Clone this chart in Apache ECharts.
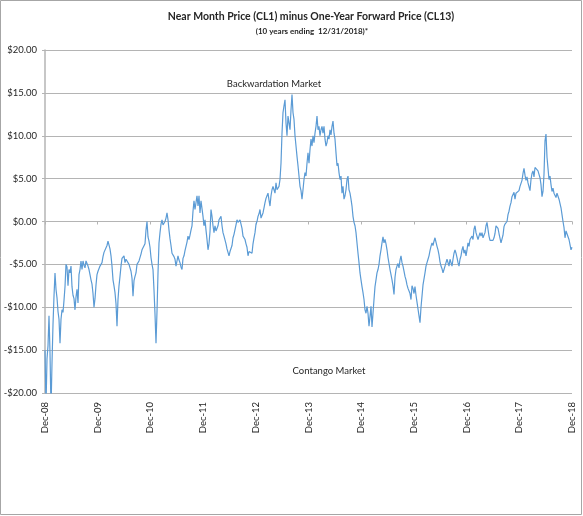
<!DOCTYPE html>
<html>
<head>
<meta charset="utf-8">
<script src="https://cdn.jsdelivr.net/npm/echarts@6/dist/echarts.min.js"></script>
<style>
html, body { margin: 0; padding: 0; background: #fff; }
#chart { width: 583px; height: 516px; }
</style>
</head>
<body>
<div id="chart"></div>
<script>
// CL1 - CL13 spread, roughly weekly readings (one step = 1/52.7 year), Dec-08 .. Dec-18
var dec08_feb11 = [
    -15.0, -21.5, -16.0, -14.5, -11.0, -15.3, -22.0, -16.5, -12.0, -8.7,
    -6.0, -7.9, -8.9, -10.5, -11.4, -14.2, -11.4, -10.3, -10.6, -9.2,
    -7.6, -5.0, -5.3, -7.5, -5.6, -6.0, -5.2, -7.6, -8.6, -9.0,
    -10.3, -8.8, -7.9, -9.5, -6.2, -5.6, -4.6, -5.6, -4.6, -5.1,
    -5.4, -4.6, -4.4, -5.2, -5.6, -6.2, -6.8, -7.3, -8.4, -10.0,
    -9.0, -7.4, -6.2, -5.8, -5.6, -5.2, -5.4, -4.8, -4.1, -3.6,
    -3.5, -3.4, -2.8, -2.3, -2.4, -3.2, -4.0, -5.2, -6.8, -7.5,
    -8.3, -9.6, -12.2, -9.1, -7.5, -6.4, -5.2, -4.3, -4.4, -4.0,
    -4.8, -4.4, -4.5, -4.6, -5.0, -5.4, -5.8, -6.6, -8.7, -6.9,
    -6.4, -6.0, -5.0, -4.8, -4.6, -4.4, -3.8, -3.3, -3.5, -3.1,
    -2.6, -1.0, 0.0, -1.8, -2.3, -3.0, -4.2, -5.0, -5.6, -8.0,
    -10.8, -14.2, -10.5
];
var feb11_jul12 = [
    -6.0, -2.5, -1.3, -0.3, 0.2, -0.4, -0.3, 0.0, 0.4, 1.0,
    0.2, -1.0, -2.0, -2.8, -3.7, -3.5, -4.1, -4.4, -5.2, -4.6,
    -4.0, -4.5, -4.8, -5.3, -5.6, -4.3, -4.0, -3.4, -2.9, -2.4,
    -1.7, -2.1, -1.6, -1.0, -0.5, 1.2, 2.4, 1.4, 2.2, 3.0,
    1.8, 3.0, 1.0, 2.4, 2.6, 0.6, -0.5, 0.2, -1.0, -2.1,
    -3.3, -2.6, -1.2, 1.4, 0.6, -0.5, -1.3, -0.5, -1.1, -1.0,
    -0.5, 0.2, 0.2, 0.6, -0.5, -1.3, -1.7, -1.9, -2.6, -3.2,
    -3.6, -4.0, -3.5
];
var jul12_nov13 = [
    -3.3, -2.8, -1.9, -1.5, -1.3, -0.4, 0.2, -0.1, 0.0, 0.2,
    -0.3, -0.8, -1.7, -1.8, -2.1, -2.6, -3.0, -4.0, -3.5, -3.3,
    -3.6, -3.7, -2.6, -1.9, -1.3, -0.3, 0.0, 0.6, 0.9, 1.4,
    0.4, 0.4, 1.0, 1.6, 2.2, 2.7, 3.0, 3.3, 2.5, 1.8,
    3.0, 3.7, 4.1, 3.7, 3.3, 4.5, 3.7, 3.9, 4.1, 4.9,
    6.8, 10.3, 12.7, 13.5, 14.2, 11.5, 10.0, 12.3, 11.5, 10.7,
    13.0, 14.8, 12.7, 11.9, 10.0, 8.8, 7.6, 6.5, 5.3, 4.1
];
var nov13_may15 = [
    3.6, 2.6, 3.7, 4.9, 5.7, 5.3, 6.8, 8.0, 6.8, 8.4,
    9.6, 8.8, 10.0, 9.2, 10.3, 11.1, 12.3, 10.7, 11.1, 10.0,
    10.7, 11.1, 10.3, 11.1, 9.6, 8.8, 9.2, 10.0, 9.6, 10.7,
    10.1, 11.1, 11.7, 10.3, 9.6, 8.0, 6.5, 6.8, 5.7, 4.9,
    5.3, 3.3, 4.1, 2.6, 3.0, 3.7, 4.9, 5.3, 3.7, 3.3,
    2.6, 1.8, 0.6, -0.1, -0.5, -1.3, -2.5, -3.7, -4.8, -6.0,
    -6.8, -7.6, -8.3, -9.1, -10.3, -10.7, -9.9, -10.7, -12.2, -11.1,
    -9.9, -12.3, -10.7, -9.1, -7.6, -6.8, -6.0, -5.6, -5.0, -4.0
];
var may15_apr16 = [
    -3.3, -2.5, -1.8, -2.5, -2.1, -2.6, -3.3, -4.2, -4.9, -5.6,
    -6.2, -6.8, -7.5, -8.5, -6.5, -5.6, -5.2, -4.9, -5.4, -4.5,
    -4.0, -4.8, -5.2, -5.8, -6.4, -6.8, -7.4, -7.8, -8.0, -8.4,
    -9.1, -7.5, -7.8, -8.4, -7.6, -8.6, -9.4, -10.2, -11.0, -11.8,
    -10.0, -8.7, -7.4, -6.7, -6.0, -5.2, -4.8, -4.4, -4.0, -3.4
];
var apr16_jun17 = [
    -2.9, -2.5, -2.8, -2.3, -1.9, -2.4, -2.9, -3.3, -3.9, -4.7,
    -5.2, -5.5, -6.0, -5.6, -5.2, -4.8, -4.4, -4.8, -5.2, -4.4,
    -4.8, -5.2, -4.4, -3.7, -3.3, -3.7, -4.2, -4.8, -5.2, -4.4,
    -4.0, -3.3, -2.9, -3.7, -3.3, -4.0, -3.3, -2.5, -2.9, -2.1,
    -2.3, -1.7, -2.1, -0.9, -0.5, -1.3, -1.7, -2.1, -1.7, -1.3,
    -1.7, -1.3, -1.9, -2.1, -1.3, -0.5, -0.1, -0.9, -1.7
];
var jun17_dec18 = [
    -2.2, -2.2, -2.4, -2.2, -1.9, -1.4, -0.5, -0.3, -0.8, -1.4,
    -1.6, -2.5, -2.5, -1.6, -0.6, -0.3, -0.3, 0.0, 0.8, 1.2,
    1.8, 2.2, 2.9, 3.1, 3.4, 2.6, 3.3, 3.2, 3.5, 3.6,
    4.1, 4.2, 4.8, 5.6, 6.2, 5.4, 4.8, 5.2, 4.5, 4.5,
    3.6, 4.9, 5.6, 5.9, 5.2, 6.3, 6.5, 6.1, 5.9, 5.5,
    5.1, 4.3, 2.9, 3.5, 5.5, 9.4, 10.2, 7.5, 6.2, 4.9,
    5.3, 4.3, 3.5, 3.9, 3.3, 3.1, 2.8, 3.3, 3.1, 2.6,
    2.4, 1.6, 0.8, 0.0, -0.7, -1.9, -1.1, -0.9, -1.3, -2.1,
    -2.7, -3.3, -3.0
];

var yearLabels = ['Dec-08', 'Dec-09', 'Dec-10', 'Dec-11', 'Dec-12', 'Dec-13',
                  'Dec-14', 'Dec-15', 'Dec-16', 'Dec-17', 'Dec-18'];

var spread = [].concat(dec08_feb11, feb11_jul12, jul12_nov13, nov13_may15,
                       may15_apr16, apr16_jun17, jun17_dec18);
var last = spread.length - 1;
var points = spread.map(function (v, i) { return [i * 10 / last, v]; });

var FONT = 'Lato, "Liberation Sans", sans-serif';
var chart = echarts.init(document.getElementById('chart'), null, { renderer: 'canvas' });

chart.setOption({
    animation: false,
    backgroundColor: '#ffffff',
    textStyle: { fontFamily: FONT },
    grid: { left: 45, right: 11, top: 50, bottom: 123 },
    xAxis: [{
        type: 'value',
        min: 0,
        max: 10,
        interval: 1,
        axisLine: { show: false, onZero: false },
        axisTick: { show: false },
        splitLine: { show: false },
        axisLabel: {
            rotate: 90,
            margin: 9,
            fontSize: 9.5,
            color: '#262626',
            fontFamily: FONT,
            formatter: function (v) { return yearLabels[Math.round(v)]; }
        }
    }, {
        type: 'value',
        min: 0,
        max: 10,
        interval: 1,
        position: 'bottom',
        axisLine: { show: true, onZero: true, lineStyle: { color: '#b4b4b4', width: 1 } },
        axisTick: { show: true, length: 3, lineStyle: { color: '#b4b4b4' } },
        axisLabel: { show: false },
        splitLine: { show: false }
    }],
    yAxis: {
        type: 'value',
        min: -20,
        max: 20,
        interval: 5,
        axisLine: { show: true, lineStyle: { color: '#b4b4b4', width: 1.5 } },
        axisTick: { show: true, length: 3, lineStyle: { color: '#b4b4b4' } },
        splitLine: { show: true, lineStyle: { color: '#b4b4b4', width: 1.2 } },
        axisLabel: {
            margin: 8,
            fontSize: 9.5,
            color: '#262626',
            fontFamily: FONT,
            formatter: function (v) {
                return (v < 0 ? '-' : '') + '$' + Math.abs(v).toFixed(2);
            }
        }
    },
    series: [{
        type: 'line',
        xAxisIndex: 0,
        data: points,
        showSymbol: false,
        clip: true,
        lineStyle: { color: '#5b9bd5', width: 1.2 },
        itemStyle: { color: '#5b9bd5' }
    }],
    graphic: [{
        type: 'rect',
        silent: true,
        z: -1,
        shape: { x: 0.5, y: 0.5, width: 581, height: 514 },
        style: { fill: 'none', stroke: '#a6a6a6', lineWidth: 1 }
    }, {
        type: 'text',
        x: 311, y: 17,
        style: {
            text: 'Near Month Price (CL1) minus One-Year Forward Price (CL13)',
            font: 'bold 10.5px ' + FONT, fill: '#262626',
            textAlign: 'center', textVerticalAlign: 'middle'
        }
    }, {
        type: 'text',
        x: 312, y: 31,
        style: {
            text: '(10 years ending  12/31/2018)*',
            font: 'bold 8px ' + FONT, fill: '#262626',
            textAlign: 'center', textVerticalAlign: 'middle'
        }
    }, {
        type: 'text',
        x: 274, y: 84,
        style: {
            text: 'Backwardation Market',
            font: '9.5px ' + FONT, fill: '#262626',
            textAlign: 'center', textVerticalAlign: 'middle'
        }
    }, {
        type: 'text',
        x: 329, y: 371,
        style: {
            text: 'Contango Market',
            font: '9.5px ' + FONT, fill: '#262626',
            textAlign: 'center', textVerticalAlign: 'middle'
        }
    }]
});
</script>
</body>
</html>
